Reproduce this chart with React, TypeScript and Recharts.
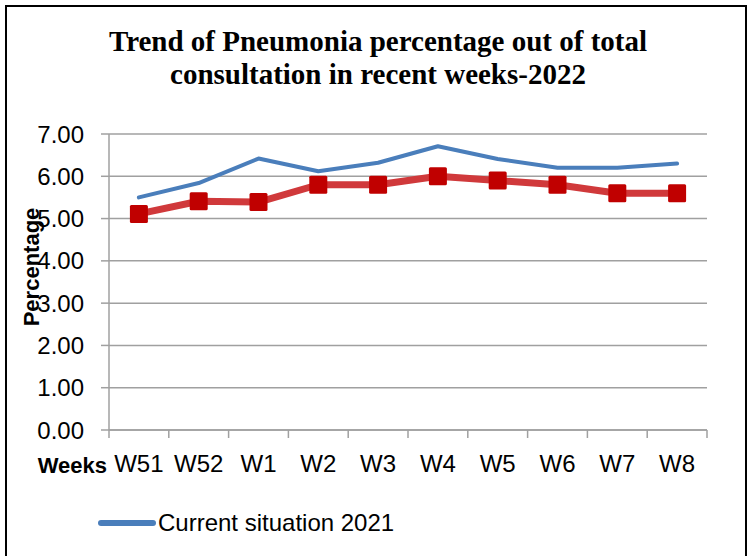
import React from 'react';
import { LineChart, Line, XAxis, YAxis, CartesianGrid, Legend } from 'recharts';

const weeks = ['W51', 'W52', 'W1', 'W2', 'W3', 'W4', 'W5', 'W6', 'W7', 'W8'];
const current2021 = [5.5, 5.84, 6.42, 6.12, 6.32, 6.71, 6.41, 6.2, 6.2, 6.3];
const current2022 = [5.11, 5.41, 5.39, 5.8, 5.8, 6.0, 5.9, 5.8, 5.6, 5.6];
const yTicks = [0, 1, 2, 3, 4, 5, 6, 7];
const boundaryTicks = [0, 1, 2, 3, 4, 5, 6, 7, 8, 9, 10];

const series2021Name = 'Current situation 2021';
const series2022Name = 'Current situation 2022';
const titleLines = ['Trend of Pneumonia percentage out of total', 'consultation in recent weeks-2022'];
const yTitle = 'Percentage';
const xTitle = 'Weeks';

const data = weeks.map((w, i) => ({ week: w, idx: i, s2021: current2021[i], s2022: current2022[i] }));

const SANS = '"Liberation Sans", Arial, sans-serif';
const GRID = '#a0a0a0';

const SquareDot = (props: any) => {
  const { cx, cy, index } = props;
  if (cx == null || cy == null) return <g key={`d${index}`} />;
  return <rect key={`d${index}`} x={cx - 9} y={cy - 9} width={18} height={18} rx={1.5} fill="#c00000" />;
};

const renderLegend = (props: any) => {
  const payload = (props.payload || []).filter((p: any) => p.type !== 'none');
  return (
    <div style={{ display: 'flex', alignItems: 'center' }}>
      {payload.map((p: any, i: number) => (
        <div key={i} style={{ display: 'flex', alignItems: 'center' }}>
          <svg width={58} height={10} style={{ display: 'block' }}>
            <line x1={3} x2={55} y1={5} y2={5} stroke={p.color} strokeWidth={6} strokeLinecap="round" />
          </svg>
          <span style={{ fontFamily: SANS, fontSize: 24, color: '#000', marginLeft: 2 }}>{p.value}</span>
        </div>
      ))}
    </div>
  );
};

export default function App() {
  return (
    <div style={{ position: 'absolute', left: 0, top: 0, width: 749, height: 556, overflow: 'hidden', background: '#fff' }}>
      <div
        style={{
          position: 'absolute', left: 5, top: 5, width: 742, height: 620,
          border: '2px solid #000', boxSizing: 'border-box',
        }}
      />
      <div
        style={{
          position: 'absolute', left: 4, top: 25, width: 748, textAlign: 'center',
          fontFamily: '"Liberation Serif", "Times New Roman", serif', fontWeight: 'bold',
          fontSize: 29, lineHeight: '33px', color: '#000',
        }}
      >
        {titleLines.map((t, i) => (<div key={i}>{t}</div>))}
      </div>
      <div style={{ position: 'absolute', left: 0, top: 0 }}>
        <LineChart
          width={749}
          height={556}
          data={data}
          margin={{ top: 134, right: 42, left: 0, bottom: 78 }}
          style={{ fontFamily: SANS }}
        >
          <CartesianGrid xAxisId="cat" vertical={false} stroke={GRID} strokeWidth={1.5} />
          <XAxis
            xAxisId="bounds"
            type="number"
            dataKey="idx"
            domain={[0, weeks.length]}
            ticks={boundaryTicks}
            tickFormatter={() => ''}
            tickSize={8}
            height={8}
            axisLine={{ stroke: GRID, strokeWidth: 1.5 }}
            tickLine={{ stroke: GRID, strokeWidth: 1.5 }}
            allowDataOverflow
          />
          <XAxis
            xAxisId="cat"
            dataKey="week"
            scale="band"
            axisLine={false}
            tickLine={false}
            tickSize={0}
            tickMargin={17}
            height={40}
            interval={0}
            tick={{ fill: '#000', fontSize: 24 }}
            label={{
              content: (p: any) => {
                const vb = p.viewBox || { x: 109, y: 437 };
                return (
                  <text x={vb.x - 2} y={vb.y + 34.5} textAnchor="end" fontFamily={SANS} fontWeight="bold" fontSize={22} fill="#000">
                    {xTitle}
                  </text>
                );
              },
            }}
          />
          <YAxis
            domain={[0, 7]}
            ticks={yTicks}
            width={109}
            tickSize={8}
            tickMargin={17}
            tickFormatter={(v: number) => v.toFixed(2)}
            tick={{ fill: '#000', fontSize: 24 }}
            axisLine={{ stroke: GRID, strokeWidth: 1.5 }}
            tickLine={{ stroke: GRID, strokeWidth: 1.5 }}
            allowDataOverflow
            label={{
              content: (p: any) => {
                const vb = p.viewBox || { x: 0, y: 134, width: 109, height: 295 };
                const x = vb.x + 39;
                const y = vb.y + vb.height / 2 - 15;
                return (
                  <text x={x} y={y} transform={`rotate(-90 ${x} ${y})`} textAnchor="middle" fontFamily={SANS} fontWeight="bold" fontSize={22} fill="#000">
                    {yTitle}
                  </text>
                );
              },
            }}
          />
          <Line
            xAxisId="cat"
            type="linear"
            dataKey="s2021"
            name={series2021Name}
            stroke="#4a7ebb"
            strokeWidth={4}
            strokeLinejoin="round"
            strokeLinecap="round"
            dot={false}
            activeDot={false}
            isAnimationActive={false}
          />
          <Line
            xAxisId="cat"
            type="linear"
            dataKey="s2022"
            name={series2022Name}
            stroke="#d0393b"
            strokeWidth={7}
            strokeLinejoin="round"
            dot={SquareDot}
            activeDot={false}
            legendType="none"
            isAnimationActive={false}
          />
          <Legend
            layout="horizontal"
            align="center"
            verticalAlign="middle"
            wrapperStyle={{ top: 509, left: 98, width: 420, height: 28 }}
            content={renderLegend}
          />
        </LineChart>
      </div>
    </div>
  );
}
